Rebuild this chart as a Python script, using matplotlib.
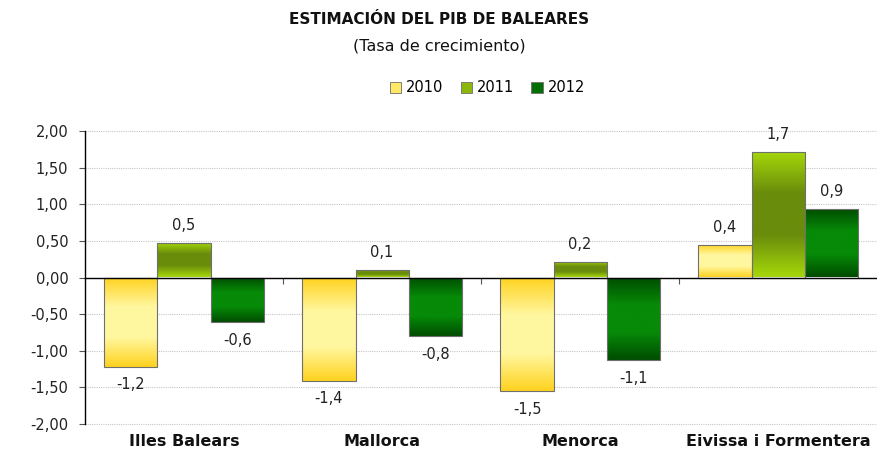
import matplotlib
matplotlib.use("Agg")
import matplotlib.pyplot as plt
import numpy as np
from matplotlib.colors import LinearSegmentedColormap
from matplotlib.patches import Patch
from matplotlib.transforms import blended_transform_factory

categories = ["Illes Balears", "Mallorca", "Menorca", "Eivissa i Formentera"]
years = ["2010", "2011", "2012"]
v2010 = [-1.22, -1.41, -1.55, 0.44]
v2011 = [0.47, 0.10, 0.21, 1.71]
v2012 = [-0.61, -0.80, -1.13, 0.93]
labels2010 = ["-1,2", "-1,4", "-1,5", "0,4"]
labels2011 = ["0,5", "0,1", "0,2", "1,7"]
labels2012 = ["-0,6", "-0,8", "-1,1", "0,9"]
yticks = [-2.0, -1.5, -1.0, -0.5, 0.0, 0.5, 1.0, 1.5, 2.0]

series = [v2010, v2011, v2012]
series_labels = [labels2010, labels2011, labels2012]
grads = [("#FFD21E", "#FFF7A0"), ("#A6D80A", "#6A8C0C"), ("#004C00", "#078A08")]
legend_cols = ["#FFE866", "#8CB80C", "#066E06"]

plt.rcParams['font.family'] = ['DejaVu Sans']
fig = plt.figure(figsize=(8.78, 4.5), dpi=100)
ax = fig.add_axes([85/878, 1-424/450, 1-85/878-0.001, (424-131)/450])

x = np.arange(len(categories))
w = 0.268
grad = np.linspace(0, 1, 256).reshape(-1, 1)
for i, (vals, labs, (edge, center)) in enumerate(zip(series, series_labels, grads)):
    cmap = LinearSegmentedColormap.from_list("g%d" % i, [edge, center, center, edge], N=256)
    pos = x + (i - 1) * w
    bars = ax.bar(pos, vals, width=w, facecolor="none", edgecolor="#6F6F6F", linewidth=0.8, zorder=3)
    for b, v, lab in zip(bars, vals, labs):
        x0 = b.get_x(); x1 = x0 + b.get_width()
        y0 = min(0, v); y1 = max(0, v)
        im = ax.imshow(grad, extent=[x0, x1, y0, y1], aspect="auto", cmap=cmap,
                       origin="lower", zorder=2, interpolation="bilinear")
        im.set_clip_path(b)
        off = 13 if v >= 0 else -13
        ax.annotate(lab, (b.get_x() + b.get_width()/2, v), xytext=(0, off),
                    textcoords="offset points", ha="center", va="center",
                    fontsize=10.5, color="#222222", zorder=5)

ax.set_xlim(-0.5, 3.5)
ax.set_ylim(-2, 2)
ax.set_yticks(yticks)
ax.set_yticklabels([("%.2f" % t).replace(".", ",") for t in yticks], fontsize=10.5, color="#222222")
ax.yaxis.grid(True, linestyle=(0, (1, 1)), color="#C8C8C8", linewidth=0.8, zorder=0)
for gl in ax.yaxis.get_gridlines():
    gl.set_clip_on(False)
ax.set_axisbelow(True)
ax.tick_params(axis="y", direction="out", length=4, width=0.8, color="#555555", pad=8)

for s in ["top", "right"]:
    ax.spines[s].set_visible(False)
ax.spines["left"].set_linewidth(1.0)
ax.spines["bottom"].set_position(("data", 0))
ax.spines["bottom"].set_linewidth(1.0)
ax.spines["bottom"].set_zorder(4)
ax.set_xticks([])
ax.set_xticks([0.5, 1.5, 2.5], minor=True)
ax.tick_params(axis="x", which="minor", direction="out", length=4, width=0.8, color="#555555")

trans = blended_transform_factory(ax.transData, fig.transFigure)
for xi, c in zip(x, categories):
    ax.text(xi, 1 - 441/450, c, transform=trans, ha="center", va="center",
            fontsize=11.5, fontweight="bold", color="#111111")

fig.text(0.5, 1 - 20/450, "ESTIMACIÓN DEL PIB DE BALEARES", ha="center", va="center",
         fontsize=11, fontweight="bold", color="#111111")
fig.text(0.5, 1 - 46/450, "(Tasa de crecimiento)", ha="center", va="center",
         fontsize=11.5, color="#111111")

handles = [Patch(facecolor=c, edgecolor="#6F6F6F", linewidth=0.6) for c in legend_cols]
fig.legend(handles, years, loc="center", bbox_to_anchor=(0.555, 1 - 88/450), ncol=3,
           frameon=False, fontsize=10.5, handlelength=0.8, handleheight=0.8,
           handletextpad=0.3, columnspacing=1.2)

fig.savefig("out.png", dpi=100)
